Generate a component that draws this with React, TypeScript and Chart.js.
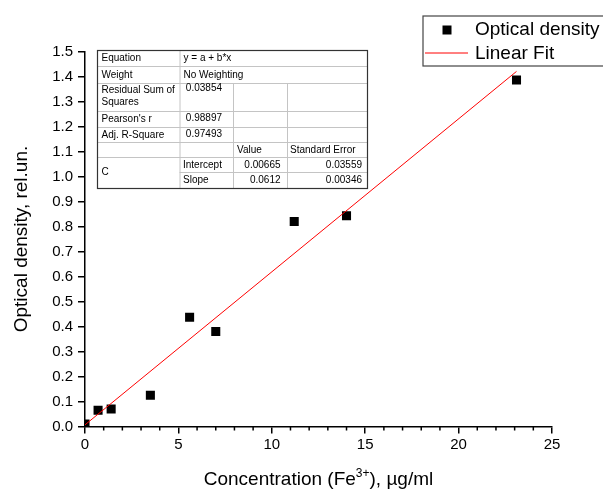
import React, { useEffect, useRef } from 'react';
import { Chart, registerables } from 'chart.js';

Chart.register(...registerables);

// ---- Data ----
const concentration = [0, 0.7, 1.4, 3.5, 5.6, 7.0, 11.2, 14.0, 23.1];
const opticalDensity = [0.01, 0.065, 0.07, 0.125, 0.437, 0.38, 0.82, 0.843, 1.386];
const fitIntercept = 0.00665;
const fitSlope = 0.0612;
const fitInterceptText = '0.00665';
const fitSlopeText = '0.0612';
const fitInterceptErrText = '0.03559';
const fitSlopeErrText = '0.00346';
const fitEquation = 'y = a + b*x';
const fitWeight = 'No Weighting';
const fitRSSText = '0.03854';
const fitPearsonText = '0.98897';
const fitAdjR2Text = '0.97493';
const xTickMax = 25;
const yTickMax = 1.5;

const FONT = 'Arial, "Liberation Sans", sans-serif';

const overlayPlugin = {
  id: 'overlay',
  afterDraw(chart: any) {
    const ctx: CanvasRenderingContext2D = chart.ctx;
    const xs = chart.scales.x;
    const area = chart.chartArea;
    ctx.save();

    // minor ticks on x axis
    ctx.strokeStyle = '#000';
    ctx.lineWidth = 1.5;
    for (let v = 0; v <= xTickMax; v += 1) {
      if (v % 5 === 0) continue;
      const px = xs.getPixelForValue(v);
      ctx.beginPath();
      ctx.moveTo(px, area.bottom);
      ctx.lineTo(px, area.bottom + 4);
      ctx.stroke();
    }

    // ---- table ----
    const L = 97, C2 = 179.5, C3 = 233, C4 = 287, R = 367;
    const rows = [50, 66, 83, 111, 127, 142, 157, 172, 188];
    ctx.strokeStyle = '#c4c4c4';
    ctx.lineWidth = 1;
    const hline = (y: number, x1: number, x2: number) => {
      ctx.beginPath(); ctx.moveTo(x1, y + 0.5); ctx.lineTo(x2, y + 0.5); ctx.stroke();
    };
    const vline = (x: number, y1: number, y2: number) => {
      ctx.beginPath(); ctx.moveTo(x + 0.5, y1); ctx.lineTo(x + 0.5, y2); ctx.stroke();
    };
    for (let i = 1; i <= 6; i++) hline(rows[i], L, R);
    hline(rows[7], C2, R);
    vline(C2, rows[0], rows[8]);
    vline(C3, rows[2], rows[8]);
    vline(C4, rows[2], rows[8]);
    ctx.strokeStyle = '#333';
    ctx.lineWidth = 1.2;
    ctx.strokeRect(L + 0.5, rows[0] + 0.5, R - L, rows[8] - rows[0]);

    ctx.fillStyle = '#000';
    ctx.font = `10px ${FONT}`;
    ctx.textBaseline = 'middle';
    const mid = (i: number) => (rows[i] + rows[i + 1]) / 2 + 0.5;
    const left = (t: string, x: number, y: number) => { ctx.textAlign = 'left'; ctx.fillText(t, x, y); };
    const right = (t: string, x: number, y: number) => { ctx.textAlign = 'right'; ctx.fillText(t, x, y); };
    left('Equation', L + 4.5, mid(0));
    left(fitEquation, C2 + 4, mid(0));
    left('Weight', L + 4.5, mid(1));
    left(fitWeight, C2 + 4, mid(1));
    left('Residual Sum of', L + 4.5, 90);
    left('Squares', L + 4.5, 102.5);
    right(fitRSSText, C3 - 11, 88);
    left("Pearson's r", L + 4.5, mid(3));
    right(fitPearsonText, C3 - 11, mid(3) - 1);
    left('Adj. R-Square', L + 4.5, mid(4));
    right(fitAdjR2Text, C3 - 11, mid(4) - 1);
    left('Value', C3 + 4, mid(5));
    left('Standard Error', C4 + 3, mid(5));
    left('C', L + 4.5, (rows[6] + rows[8]) / 2);
    left('Intercept', C2 + 3.5, mid(6));
    right(fitInterceptText, C4 - 6.5, mid(6));
    right(fitInterceptErrText, R - 5, mid(6));
    left('Slope', C2 + 3.5, mid(7));
    right(fitSlopeText, C4 - 6.5, mid(7));
    right(fitSlopeErrText, R - 5, mid(7));

    // ---- legend ----
    ctx.strokeStyle = '#444';
    ctx.lineWidth = 1.2;
    ctx.strokeRect(423, 16, 200, 50);
    ctx.fillStyle = '#000';
    ctx.fillRect(442.5, 25.5, 9, 9);
    ctx.strokeStyle = '#ff0000';
    ctx.lineWidth = 1;
    ctx.beginPath(); ctx.moveTo(425, 53); ctx.lineTo(468, 53); ctx.stroke();
    ctx.fillStyle = '#000';
    ctx.font = `19px ${FONT}`;
    ctx.textAlign = 'left';
    ctx.textBaseline = 'middle';
    ctx.fillText('Optical density', 475, 30);
    ctx.fillText('Linear Fit', 475, 53.5);

    // ---- axis titles ----
    const big = `19px ${FONT}`;
    const sup = `12px ${FONT}`;
    const p1 = 'Concentration (Fe';
    const p2 = '3+';
    const p3 = '), \u00b5g/ml';
    ctx.font = big; const w1 = ctx.measureText(p1).width; const w3 = ctx.measureText(p3).width;
    ctx.font = sup; const w2 = ctx.measureText(p2).width;
    const total = w1 + w2 + w3;
    const cx = (area.left + area.right) / 2;
    let x0 = cx - total / 2;
    const ty = 478;
    ctx.textBaseline = 'alphabetic';
    ctx.font = big; ctx.fillText(p1, x0, ty + 7);
    ctx.font = sup; ctx.fillText(p2, x0 + w1, ty - 1);
    ctx.font = big; ctx.fillText(p3, x0 + w1 + w2, ty + 7);

    ctx.save();
    ctx.translate(22, (area.top + area.bottom) / 2);
    ctx.rotate(-Math.PI / 2);
    ctx.textAlign = 'center';
    ctx.textBaseline = 'middle';
    ctx.font = big;
    ctx.fillText('Optical density, rel.un.', 0, 0);
    ctx.restore();

    ctx.restore();
  },
};

export default function App() {
  const ref = useRef<HTMLCanvasElement>(null);
  useEffect(() => {
    const points = concentration.map((x, i) => ({ x, y: opticalDensity[i] }));
    const xMin = Math.min(...concentration);
    const xMax = Math.max(...concentration);
    const fit = [xMin, xMax].map((x) => ({ x, y: fitIntercept + fitSlope * x }));
    const tickFont = { family: FONT, size: 15 };
    const chart = new Chart(ref.current as HTMLCanvasElement, {
      type: 'scatter',
      data: {
        datasets: [
          {
            type: 'line',
            label: 'Linear Fit',
            data: fit,
            borderColor: '#ff0000',
            borderWidth: 1,
            pointRadius: 0,
            fill: false,
          } as any,
          {
            label: 'Optical density',
            data: points,
            pointStyle: 'rect',
            pointRadius: 6.4,
            pointBackgroundColor: '#000',
            pointBorderColor: '#000',
            pointBorderWidth: 0,
            backgroundColor: '#000',
            borderColor: '#000',
          },
        ],
      },
      options: {
        responsive: false,
        animation: false,
        devicePixelRatio: 1,
        layout: { padding: { top: 51.5, right: 51, left: 0, bottom: 0 } },
        plugins: { legend: { display: false }, tooltip: { enabled: false } },
        scales: {
          x: {
            type: 'linear',
            min: 0,
            max: xTickMax,
            ticks: { stepSize: 5, color: '#000', font: tickFont, padding: 2, maxRotation: 0 },
            grid: { display: true, drawOnChartArea: false, drawTicks: true, tickLength: 7, color: '#000', lineWidth: 1.5 },
            border: { display: true, color: '#000', width: 1.5 },
            afterFit: (s: any) => { s.height = 62.5; },
          },
          y: {
            type: 'linear',
            min: 0,
            max: yTickMax,
            ticks: { stepSize: 0.1, color: '#000', font: tickFont, padding: 5, callback: (v: any) => Number(v).toFixed(1) },
            grid: { display: true, drawOnChartArea: false, drawTicks: true, tickLength: 7, color: '#000', lineWidth: 1.5 },
            border: { display: true, color: '#000', width: 1.5 },
            afterFit: (s: any) => { s.width = 85; },
          },
        },
      },
      plugins: [overlayPlugin],
    });
    return () => chart.destroy();
  }, []);
  return (
    <div style={{ position: 'fixed', left: 0, top: 0, width: 603, height: 489, background: '#fff' }}>
      <canvas ref={ref} width={603} height={489} style={{ display: 'block', width: 603, height: 489 }} />
    </div>
  );
}
